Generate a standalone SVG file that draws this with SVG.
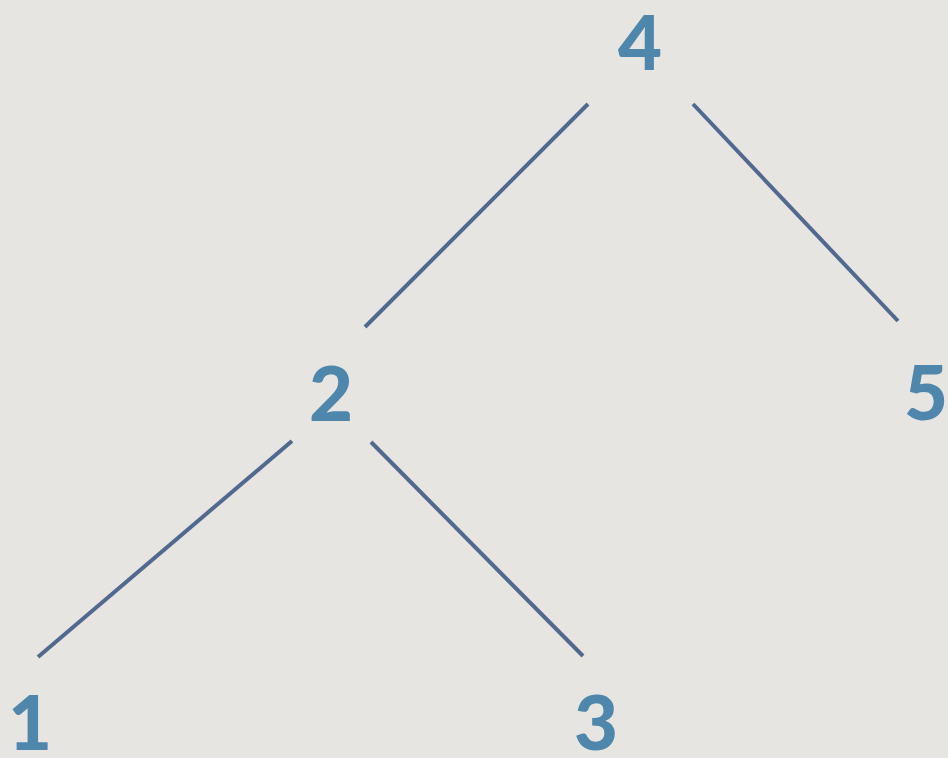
<svg xmlns="http://www.w3.org/2000/svg" width="948" height="758" viewBox="0 0 948 758">
<style>
.bg{fill:#e6e5e1}
.lbl{font-family:Lato,"Open Sans","Liberation Sans",sans-serif;font-weight:900;font-size:76px;fill:#4f87ac;text-anchor:middle}
.edge{stroke:#52698f;stroke-width:4;fill:none;stroke-linecap:butt}
</style>
<rect class="bg" x="0" y="0" width="948" height="758"/>
<g id="connectors">
<line class="edge" x1="588" y1="104" x2="365" y2="327"/>
<line class="edge" x1="693" y1="104" x2="898" y2="321"/>
<line class="edge" x1="292" y1="441" x2="38" y2="657"/>
<line class="edge" x1="371" y1="442" x2="583" y2="656"/>
</g>
<g id="node4"><text class="lbl" x="640" y="70">4</text></g>
<g id="node2"><text class="lbl" x="331" y="421">2</text></g>
<g id="node5"><text class="lbl" x="926" y="420">5</text></g>
<g id="node1"><text class="lbl" x="30" y="750">1</text></g>
<g id="node3"><text class="lbl" x="596" y="750">3</text></g>
</svg>
